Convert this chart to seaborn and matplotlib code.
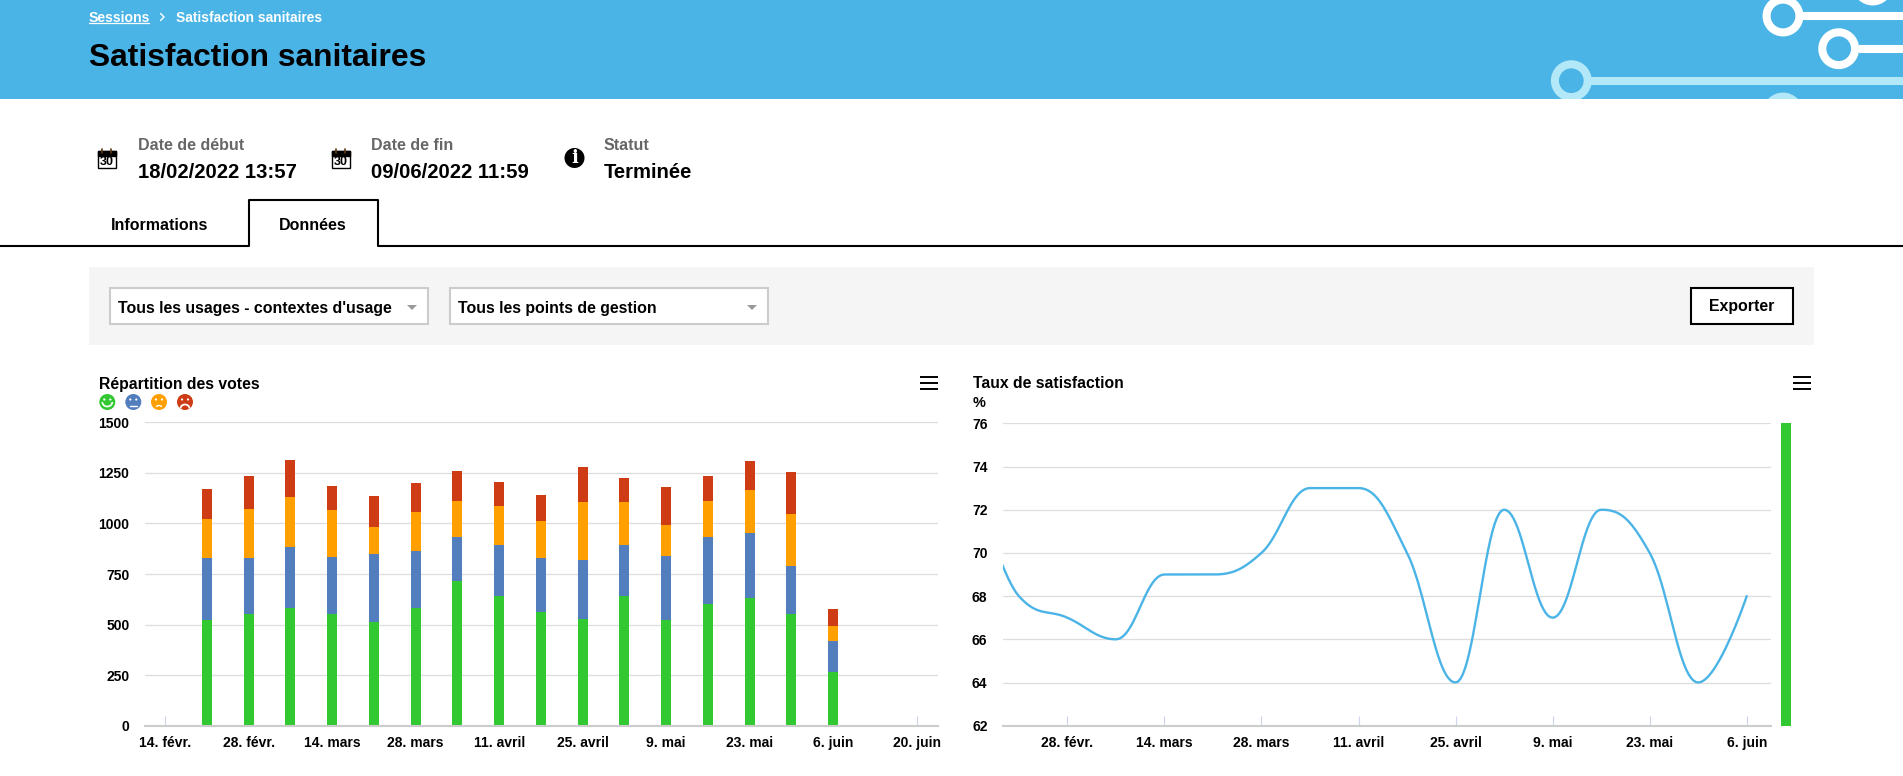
import matplotlib
matplotlib.use('Agg')
import matplotlib.pyplot as plt
from matplotlib.patches import Circle, Rectangle, Polygon, Arc
import numpy as np
import pandas as pd
import seaborn as sns

sns.set_theme(style='white')
plt.rcParams['font.family'] = ['Liberation Sans', 'DejaVu Sans']
plt.rcParams['font.weight'] = 'bold'

# Données
vote_dates = ['2022-02-21', '2022-02-28', '2022-03-07', '2022-03-14', '2022-03-21', '2022-03-28',
              '2022-04-04', '2022-04-11', '2022-04-18', '2022-04-25', '2022-05-02', '2022-05-09',
              '2022-05-16', '2022-05-23', '2022-05-30', '2022-06-06']
votes_green = [523, 552, 582, 552, 513, 582, 715, 641, 562, 527, 641, 522, 602, 631, 552, 265]
votes_blue = [306, 277, 301, 282, 336, 282, 218, 252, 267, 292, 252, 317, 331, 322, 238, 154]
votes_orange = [193, 242, 248, 232, 133, 193, 178, 193, 183, 287, 213, 153, 178, 212, 257, 74]
votes_red = [148, 164, 183, 119, 154, 143, 148, 119, 129, 173, 119, 188, 124, 144, 207, 84]

# le premier point (14 févr.) tombe hors du cadre, la courbe est coupée à gauche
rate_dates = ['2022-02-14'] + vote_dates
rate_values = [74, 68, 67, 66, 69, 69, 70, 73, 73, 70, 64, 72, 67, 72, 70, 64, 68]
gauge_value = [76]

votes_ticks = [0, 250, 500, 750, 1000, 1250, 1500]
rate_ticks = [62, 64, 66, 68, 70, 72, 74, 76]
left_tick_dates = ['2022-02-14', '2022-02-28', '2022-03-14', '2022-03-28', '2022-04-11',
                   '2022-04-25', '2022-05-09', '2022-05-23', '2022-06-06', '2022-06-20']
left_tick_labels = ['14. févr.', '28. févr.', '14. mars', '28. mars', '11. avril',
                    '25. avril', '9. mai', '23. mai', '6. juin', '20. juin']
right_tick_dates = left_tick_dates[1:-1]
right_tick_labels = left_tick_labels[1:-1]

GREEN = '#32C832'
BLUE = '#527EBD'
ORANGE = '#FFA000'
RED = '#CD3C14'
SKY = '#4BB4E6'
PALE = '#B3E8F8'

W, H = 1903, 776
fig = plt.figure(figsize=(W / 100, H / 100), dpi=100, facecolor='white')


def days(dates):
    stamps = pd.to_datetime(dates)
    return ((stamps - pd.Timestamp('2022-02-14')) / pd.Timedelta(days=1)).to_numpy()


def px_axes(left, top, right, bottom, **kw):
    return fig.add_axes([left / W, 1 - bottom / H, (right - left) / W, (bottom - top) / H], **kw)


def spline(xs, ys, steps=24):
    # courbe lissée du type Highcharts entre les valeurs hebdomadaires
    n = len(xs)
    left_c, right_c = [None] * n, [None] * n
    for i in range(n):
        if i == 0 or i == n - 1:
            left_c[i] = right_c[i] = (xs[i], ys[i])
            continue
        lx = (1.5 * xs[i] + xs[i - 1]) / 2.5
        ly = (1.5 * ys[i] + ys[i - 1]) / 2.5
        rx = (1.5 * xs[i] + xs[i + 1]) / 2.5
        ry = (1.5 * ys[i] + ys[i + 1]) / 2.5
        corr = (ry - ly) * (rx - xs[i]) / (rx - lx) + ys[i] - ry
        ly += corr
        ry += corr
        if ly > ys[i - 1] and ly > ys[i]:
            ly = max(ys[i - 1], ys[i])
            ry = 2 * ys[i] - ly
        elif ly < ys[i - 1] and ly < ys[i]:
            ly = min(ys[i - 1], ys[i])
            ry = 2 * ys[i] - ly
        if ry > ys[i + 1] and ry > ys[i]:
            ry = max(ys[i + 1], ys[i])
            ly = 2 * ys[i] - ry
        elif ry < ys[i + 1] and ry < ys[i]:
            ry = min(ys[i + 1], ys[i])
            ly = 2 * ys[i] - ry
        left_c[i], right_c[i] = (lx, ly), (rx, ry)
    out_x, out_y = [], []
    t = np.linspace(0, 1, steps)
    for i in range(n - 1):
        p0, p1, p2, p3 = (xs[i], ys[i]), right_c[i], left_c[i + 1], (xs[i + 1], ys[i + 1])
        out_x += list((1 - t) ** 3 * p0[0] + 3 * (1 - t) ** 2 * t * p1[0] + 3 * (1 - t) * t ** 2 * p2[0] + t ** 3 * p3[0])
        out_y += list((1 - t) ** 3 * p0[1] + 3 * (1 - t) ** 2 * t * p1[1] + 3 * (1 - t) * t ** 2 * p2[1] + t ** 3 * p3[1])
    return out_x, out_y


# ============================================================
# PAGE (bandeau, onglets, filtres) en coordonnées pixels
# ============================================================
page = fig.add_axes([0, 0, 1, 1], zorder=0)
page.set_xlim(0, W)
page.set_ylim(H, 0)
page.axis('off')


def label(x, y, s, px=14, color='black', ha='left', **kw):
    page.text(x, y, s, fontsize=px * 0.72, color=color, ha=ha, va='center', fontweight='bold', **kw)


band = Rectangle((0, 0), W, 99, fc=SKY, ec='none')
page.add_patch(band)
for cx, cy, col in [(1783, 16, 'white'), (1838.7, 48.7, 'white'), (1872.7, -15, 'white'),
                    (1571.3, 80.7, PALE), (1783, 113, PALE)]:
    ring = Circle((cx, cy), 16.4, fc='none', ec=col, lw=5.8)
    page.add_patch(ring)
    ring.set_clip_path(band)
    seg = page.plot([cx + 20, W], [cy, cy], color=col, lw=5.8, solid_capstyle='butt')[0]
    seg.set_clip_path(band)

label(89, 17.5, 'Sessions', 14, 'white')
page.plot([89, 149], [23, 23], color='white', lw=0.9)
page.plot([160.5, 164, 160.5], [13.5, 17, 20.5], color='white', lw=1.0)
label(176, 17.5, 'Satisfaction sanitaires', 13.8, 'white')
label(89, 58, 'Satisfaction sanitaires', 31.8)

# Dates et statut
for x, head, val in [(138, 'Date de début', '18/02/2022 13:57'),
                     (371, 'Date de fin', '09/06/2022 11:59'),
                     (604, 'Statut', 'Terminée')]:
    label(x, 145, head, 16, '#666666')
    label(x, 172, val, 20.3)
for x in [97, 331]:
    page.add_patch(Rectangle((x + 0.5, 151), 18, 16.5, fc='white', ec='black', lw=1))
    page.add_patch(Rectangle((x + 0.5, 151), 18, 4.5, fc='black', ec='black', lw=1))
    page.plot([x + 5, x + 5], [148.5, 153], color='#5A3A10', lw=1.2)
    page.plot([x + 14, x + 14], [148.5, 153], color='#5A3A10', lw=1.2)
    label(x + 9.5, 162, '30', 12.5, ha='center')
page.add_patch(Circle((574.5, 158), 10, fc='black', ec='none'))
page.text(574.5, 158, 'i', fontsize=13, color='white', ha='center', va='center',
          family='DejaVu Serif', fontweight='bold')

# Onglets
page.plot([0, 248.5, 248.5, 377.5, 377.5, W], [246, 246, 199.5, 199.5, 246, 246], color='black', lw=1.5)
label(160, 225, 'Informations', 16, ha='center')
label(312.5, 225, 'Données', 16, ha='center')

# Filtres
page.add_patch(Rectangle((89, 267), 1725, 78, fc='#F5F5F5', ec='none'))
for x0, x1, s in [(110, 428, "Tous les usages - contextes d'usage"), (449.5, 768, 'Tous les points de gestion')]:
    page.add_patch(Rectangle((x0, 288), x1 - x0, 35.5, fc='white', ec='#CCCCCC', lw=1.5))
    label(x0 + 8.5, 308, s, 15.9)
for x in [412, 752]:
    page.add_patch(Polygon([(x - 5, 305), (x + 5, 305), (x, 310)], fc='#999999', ec='none'))
page.add_patch(Rectangle((1690.5, 288), 102, 35.5, fc='white', ec='black', lw=1.5))
label(1741.5, 307, 'Exporter', 15.9, ha='center')

# Titres, menus et légende des graphiques
label(99.3, 384, 'Répartition des votes', 15.8)
label(973, 384, 'Taux de satisfaction', 15.7)
label(973, 403, '%', 14.5)
for x0 in [920, 1793]:
    for y in [377, 383, 388.5]:
        page.plot([x0, x0 + 18], [y, y], color='black', lw=1.4, solid_capstyle='butt')

for i, (x, col) in enumerate(zip([107.3, 133.3, 159, 185], [GREEN, BLUE, ORANGE, RED])):
    page.add_patch(Circle((x, 402), 8, fc=col, ec='none'))
    for dx in [-3, 3]:
        page.add_patch(Circle((x + dx, 399.5), 1.1, fc='white', ec='none'))
    if i == 0:
        page.add_patch(Arc((x, 402), 10, 9, theta1=0, theta2=180, color='white', lw=1.2))
    elif i == 1:
        page.plot([x - 3.5, x + 3.5], [405.5, 405.5], color='white', lw=1.0)
    elif i == 2:
        page.add_patch(Arc((x, 407), 5, 3, theta1=180, theta2=360, color='white', lw=1.0))
    else:
        page.add_patch(Arc((x, 408.5), 9, 8, theta1=180, theta2=360, color='white', lw=1.3))


def style_axis(ax, ticks, tick_pos, tick_labels):
    ax.set_facecolor('none')
    ax.set_yticks(ticks)
    ax.set_xticks(tick_pos, tick_labels)
    ax.set_xlabel('')
    ax.set_ylabel('')
    ax.grid(axis='y', color='#DDDDDD', lw=0.9)
    ax.grid(axis='x', visible=False)
    ax.set_axisbelow(True)
    for name in ['top', 'left', 'right']:
        ax.spines[name].set_visible(False)
    ax.spines['bottom'].set_color('#CCCCCC')
    ax.spines['bottom'].set_linewidth(1.5)
    ax.tick_params(axis='x', direction='in', length=7.2, width=0.8, color='#CCD6EB',
                   bottom=True, pad=7.4, labelsize=10, labelcolor='black')
    ax.tick_params(axis='y', length=0, pad=11.2, labelsize=10, labelcolor='black')


# ============================================================
# GRAPHIQUE 1 : répartition des votes
# ============================================================
ax1 = px_axes(145, 422.3, 938, 725.7, zorder=2)
bottom = np.zeros(len(vote_dates))
for values, col in [(votes_green, GREEN), (votes_blue, BLUE), (votes_orange, ORANGE), (votes_red, RED)]:
    sns.barplot(x=days(vote_dates), y=values, bottom=bottom, color=col, width=0.24, gap=0,
                saturation=1, errorbar=None, native_scale=True, linewidth=0, edgecolor='none', ax=ax1)
    bottom = bottom + np.array(values)
ax1.set_xlim(-3.4, 129.6)
ax1.set_ylim(0, 1500)
style_axis(ax1, votes_ticks, days(left_tick_dates), left_tick_labels)

# ============================================================
# GRAPHIQUE 2 : taux de satisfaction
# ============================================================
ax2 = px_axes(1003, 423.3, 1771, 725.7, zorder=2)
curve_x, curve_y = spline(list(days(rate_dates)), rate_values)
sns.lineplot(x=curve_x, y=curve_y, color=SKY, linewidth=1.7, estimator=None, sort=False, ax=ax2)
ax2.set_xlim(4.71, 115.5)
ax2.set_ylim(62, 76)
style_axis(ax2, rate_ticks, days(right_tick_dates), right_tick_labels)

# barre verte à droite du graphique
gauge = px_axes(1781, 423.3, 1791, 725.7, zorder=2)
sns.barplot(x=[0], y=gauge_value, color=GREEN, width=1, gap=0, saturation=1, errorbar=None,
            linewidth=0, edgecolor='none', ax=gauge)
gauge.set_xlim(-0.5, 0.5)
gauge.set_ylim(62, 76)
gauge.axis('off')

fig.savefig('out.png', dpi=100)
